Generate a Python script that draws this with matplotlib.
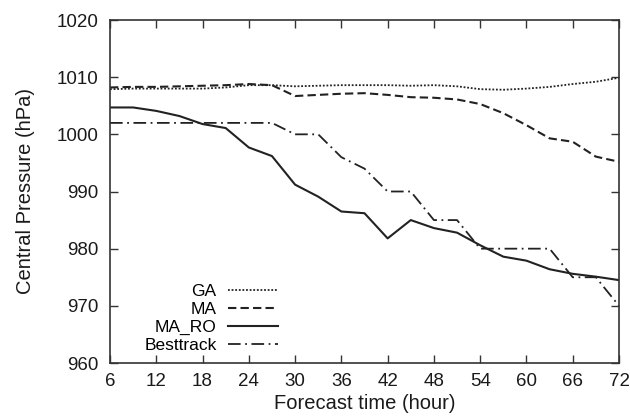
import matplotlib.pyplot as plt
import numpy as np

plt.rcParams['font.family'] = ['Liberation Sans', 'DejaVu Sans']

hours = [6, 9, 12, 15, 18, 21, 24, 27, 30, 33, 36, 39, 42, 45, 48, 51, 54, 57, 60, 63, 66, 69, 72]
ga = [1007.9, 1008.0, 1008.0, 1008.0, 1008.0, 1008.2, 1008.6, 1008.6, 1008.4, 1008.5, 1008.6, 1008.6,
      1008.6, 1008.5, 1008.6, 1008.4, 1007.9, 1007.8, 1008.0, 1008.3, 1008.8, 1009.2, 1009.9]
ma = [1008.2, 1008.3, 1008.3, 1008.4, 1008.5, 1008.6, 1008.8, 1008.6, 1006.7, 1006.9, 1007.1, 1007.2,
      1006.9, 1006.5, 1006.4, 1006.1, 1005.3, 1003.7, 1001.6, 999.3, 998.7, 996.1, 995.2]
ma_ro = [1004.7, 1004.7, 1004.1, 1003.2, 1001.8, 1001.1, 997.7, 996.2, 991.2, 989.1, 986.5, 986.2,
         981.8, 985.0, 983.6, 982.8, 980.6, 978.6, 977.9, 976.4, 975.6, 975.1, 974.5]
besttrack = [1002, 1002, 1002, 1002, 1002, 1002, 1002, 1002, 1000, 1000, 996, 994,
             990, 990, 985, 985, 980, 980, 980, 980, 975, 975, 970]

fig = plt.figure(figsize=(6.3, 4.19), dpi=100)
ax = fig.add_axes([110 / 630, 1 - 363 / 419, 509 / 630, 343 / 419])

lc = '#222222'
ax.plot(hours, ga, color=lc, linestyle=(0, (1, 1)), linewidth=1.3, label='GA')
ax.plot(hours, ma, color=lc, linestyle=(0, (4, 2)), linewidth=1.5, label='MA')
ax.plot(hours, ma_ro, color=lc, linestyle='-', linewidth=1.5, label='MA_RO')
ax.plot(hours, besttrack, color=lc, linestyle=(0, (7, 2.5, 1, 2.5)), linewidth=1.3, label='Besttrack')

ax.set_xlim(6, 72)
ax.set_ylim(960, 1020)
ax.set_xticks(np.arange(6, 73, 6))
ax.set_yticks(np.arange(960, 1021, 10))
ax.tick_params(direction='in', top=True, right=True, length=6, width=1, color='#333333',
               labelsize=13.5, labelcolor='#1a1a1a')
ax.tick_params(axis='y', pad=8.5)
ax.tick_params(axis='x', pad=7.5)
for s in ax.spines.values():
    s.set_color('#333333')
    s.set_linewidth(1.2)

ax.set_xlabel('Forecast time (hour)', fontsize=14.5, color='#1a1a1a')
ax.set_ylabel('Central Pressure (hPa)', fontsize=14.5, color='#1a1a1a')
ax.xaxis.set_label_coords(0.5, -0.09)
ax.yaxis.set_label_coords(-0.147, 0.5)

ax.legend(loc='lower right', bbox_to_anchor=(0.33, 0.03), frameon=False, markerfirst=False,
          fontsize=12.5, handlelength=2.9, handletextpad=0.63, labelspacing=0.16,
          borderpad=0, borderaxespad=0)

fig.savefig('out.png', dpi=100, facecolor='white')
